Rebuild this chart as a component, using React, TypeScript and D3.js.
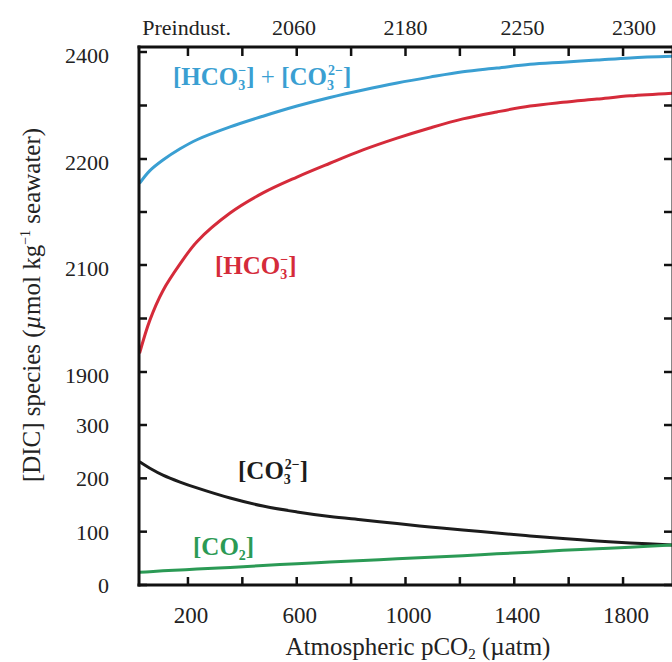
import React from 'react';
import * as d3 from 'd3';

// ---- data ----
const pco2 = [22, 60, 108, 171, 233, 355, 476, 601, 722, 844, 969, 1090, 1211, 1336, 1458, 1579, 1704, 1826, 1980];
const hco3PlusCo3 = [2177, 2189, 2199, 2219, 2236, 2260, 2280, 2299, 2315, 2329, 2342, 2353, 2363, 2370, 2377, 2381, 2385, 2389, 2392];
const hco3 = [1935, 1997, 2052, 2101, 2122, 2149, 2168, 2183, 2196, 2217, 2239, 2258, 2275, 2288, 2299, 2306, 2312, 2318, 2323];
const co3 = [231, 219, 206, 193, 182, 163, 148, 137, 128.4, 122, 115.3, 108.8, 103, 97.5, 92, 87.2, 82.5, 78.8, 75];
const co2 = [24, 25, 26.5, 28, 30, 33, 36.5, 40, 43, 46, 49, 52, 55, 58.5, 61.5, 65, 68, 71, 75];

const xTicks = [200, 400, 600, 800, 1000, 1200, 1400, 1600, 1800];
const xTickLabels = [200, 600, 1000, 1400, 1800];
const topLabels = ['Preindust.', '2060', '2180', '2250', '2300'];
const topLabelPco2 = [195, 590, 1000, 1430, 1840];
const upperTicks = [1900, 2000, 2100, 2150, 2200, 2300, 2400];
const upperTickLabels = [1900, 2100, 2200, 2400];
const lowerTicks = [0, 100, 200, 300];

const FONT = '"Liberation Serif", "Times New Roman", Times, serif';
const BLUE = '#3a9fd2';
const RED = '#d52b3a';
const BLACK = '#1c1c1c';
const GREEN = '#2b9a55';

export default function App() {
  const left = 139, right = 672, top = 47, bottom = 585;
  const x = d3.scaleLinear().domain([20, 1980]).range([left, right]);
  const yUp = d3.scaleLinear().domain([1900, 2100, 2200, 2400]).range([372, 265, 159, 52]);
  const yLo = d3.scaleLinear().domain([0, 300]).range([bottom, 425]);

  const mk = (vals: number[], y: (v: number) => number) =>
    d3.line<number>().x((_, i) => x(pco2[i])).y((v) => y(v)).curve(d3.curveCatmullRom.alpha(0.5))(vals) || '';

  const tickLen = 8;
  const yTickPos = [...upperTicks.map((v) => yUp(v)), ...lowerTicks.map((v) => yLo(v))];

  return (
    <svg width={672} height={662} style={{ position: 'absolute', left: 0, top: 0, background: '#fff' }} fontFamily={FONT}>
      <rect x={0} y={0} width={672} height={662} fill="#fff" />
      {/* curves */}
      <path d={mk(hco3PlusCo3, yUp)} fill="none" stroke={BLUE} strokeWidth={3} />
      <path d={mk(hco3, yUp)} fill="none" stroke={RED} strokeWidth={3} />
      <path d={mk(co3, yLo)} fill="none" stroke={BLACK} strokeWidth={3} />
      <path d={mk(co2, yLo)} fill="none" stroke={GREEN} strokeWidth={3} />

      {/* frame */}
      <g stroke="#111" strokeWidth={3} strokeLinecap="square">
        <line x1={left} x2={right + 2} y1={top} y2={top} />
        <line x1={left} x2={right + 2} y1={bottom} y2={bottom} />
        <line x1={left} x2={left} y1={top} y2={bottom} />
        <line x1={right + 1} x2={right + 1} y1={top} y2={bottom} />
      </g>
      {/* ticks */}
      <g stroke="#111" strokeWidth={2.5}>
        {xTicks.map((t) => (
          <g key={'xt' + t}>
            <line x1={x(t)} x2={x(t)} y1={bottom} y2={bottom - tickLen} />
            <line x1={x(t)} x2={x(t)} y1={top} y2={top + tickLen + 1} />
          </g>
        ))}
        {yTickPos.map((p, i) => (
          <g key={'yt' + i}>
            <line x1={left} x2={left + tickLen} y1={p} y2={p} />
            <line x1={right} x2={right - tickLen} y1={p} y2={p} />
          </g>
        ))}
      </g>
      {/* tick labels */}
      <g fill="#222" fontSize={23} textAnchor="middle">
        {xTickLabels.map((t) => (
          <text key={'xl' + t} x={x(t) + 3} y={623}>{t}</text>
        ))}
      </g>
      <g fill="#222" fontSize={22} textAnchor="middle">
        {topLabels.map((t, i) => (
          <text key={'tl' + t} x={x(topLabelPco2[i])} y={35}>{t}</text>
        ))}
      </g>
      <g fill="#222" fontSize={22} textAnchor="end">
        {upperTickLabels.map((t) => (
          <text key={'ul' + t} x={109} y={yUp(t) + 11}>{t}</text>
        ))}
        {lowerTicks.map((t) => (
          <text key={'ll' + t} x={109} y={yLo(t) + 8}>{t}</text>
        ))}
      </g>

      {/* axis titles */}
      <text x={418} y={655} fontSize={25} textAnchor="middle" fill="#222">
        Atmospheric pCO<tspan fontSize={15} dy={4}>2</tspan>
        <tspan dy={-4}> (µatm)</tspan>
      </text>
      <text transform="translate(40,305) rotate(-90)" fontSize={25} textAnchor="middle" fill="#222">
        [DIC] species (<tspan fontStyle="italic">µ</tspan>mol kg<tspan fontSize={14} dy={-10}>−1</tspan>
        <tspan dy={10}> seawater)</tspan>
      </text>

      {/* series labels */}
      <g fontSize={25} fontWeight="bold">
        <text x={173} y={85} fill={BLUE}>
          [HCO<tspan fontSize={14} dy={5}>3</tspan>
          <tspan fontSize={14} dx={-7} dy={-15}>−</tspan>
          <tspan dy={10}>]</tspan>
          <tspan fontWeight="normal"> + </tspan>[CO<tspan fontSize={14} dy={5}>3</tspan>
          <tspan fontSize={14} dx={-6} dy={-15}>2−</tspan>
          <tspan dy={10}>]</tspan>
        </text>
        <text x={215} y={274} fill={RED}>
          [HCO<tspan fontSize={14} dy={5}>3</tspan>
          <tspan fontSize={14} dx={-7} dy={-15}>−</tspan>
          <tspan dy={10}>]</tspan>
        </text>
        <text x={238} y={479} fill={BLACK}>
          [CO<tspan fontSize={14} dy={5}>3</tspan>
          <tspan fontSize={14} dx={-6} dy={-15}>2−</tspan>
          <tspan dy={10}>]</tspan>
        </text>
        <text x={193} y={555} fill={GREEN}>
          [CO<tspan fontSize={14} dy={5}>2</tspan>
          <tspan dy={-5}>]</tspan>
        </text>
      </g>
    </svg>
  );
}
